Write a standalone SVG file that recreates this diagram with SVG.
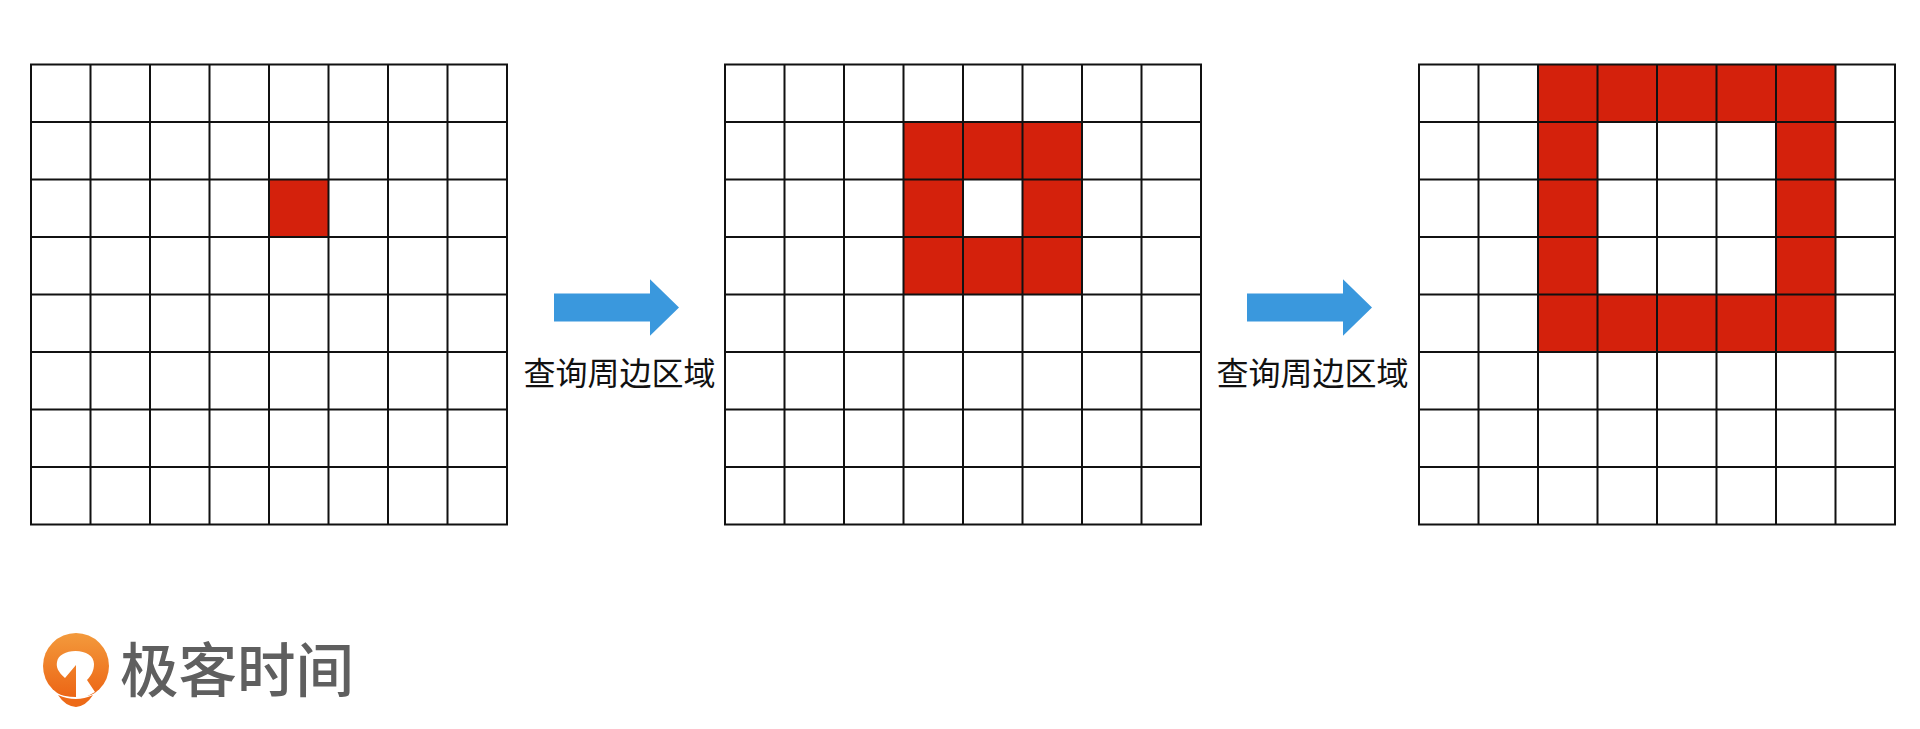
<svg xmlns="http://www.w3.org/2000/svg" xmlns:xlink="http://www.w3.org/1999/xlink" width="1920" height="729" viewBox="0 0 1920 729">
<style>
.red{fill:#d4210c}
.ln{stroke:#111;stroke-width:2;fill:none}
.ar{fill:#3a98dd}
.lb{font-family:"Noto Sans CJK SC","Liberation Sans",sans-serif;font-size:32px;fill:#111;text-anchor:middle}
.lg{font-family:"Noto Sans CJK SC","Liberation Sans",sans-serif;font-size:59px;font-weight:500;fill:#5f5f5f}
</style>
<defs>
<linearGradient id="og" x1="0" y1="0" x2="0" y2="1"><stop offset="0" stop-color="#f39a3c"/><stop offset="1" stop-color="#ec6414"/></linearGradient>
<rect id="c" class="red" width="59.5" height="57.5"/>
<path id="g" class="ln" d="M0 0H476V460H0ZM0 57.500H476M0 115H476M0 172.500H476M0 230H476M0 287.500H476M0 345H476M0 402.500H476M59.500 0V460M119 0V460M178.500 0V460M238 0V460M297.500 0V460M357 0V460M416.500 0V460"/>
<path id="a" class="ar" d="M0 14.300H96V0L125 28.200L96 56.400V42.300H0Z"/>
</defs>
<rect width="1920" height="729" fill="#fff"/>
<g id="grid1" transform="translate(31 64.500)">
<use xlink:href="#c" href="#c" x="238" y="115"/>
<use xlink:href="#g" href="#g"/>
</g>
<g id="grid2" transform="translate(725 64.500)">
<rect class="red" x="178.500" y="57.500" width="178.500" height="172.500"/>
<rect x="238" y="115" width="59.500" height="57.500" fill="#fff"/>
<use xlink:href="#g" href="#g"/>
</g>
<g id="grid3" transform="translate(1419 64.500)">
<rect class="red" x="119" y="0" width="297.500" height="287.500"/>
<rect x="178.500" y="57.500" width="178.500" height="172.500" fill="#fff"/>
<use xlink:href="#g" href="#g"/>
</g>
<g id="connectors">
<use xlink:href="#a" href="#a" x="554" y="279.300"/>
<use xlink:href="#a" href="#a" x="1247" y="279.300"/>
</g>
<g id="label1"><text class="lb" x="619.500" y="385">查询周边区域</text></g>
<g id="label2"><text class="lb" x="1312.500" y="385">查询周边区域</text></g>
<g id="logo">
<circle cx="76" cy="666" r="33" fill="url(#og)"/>
<path fill="#fff" d="M65 678C58 672 56 667 57 662C58 655 66 651 75.500 651C86 651 94 656 94 664C94 671 91 676 87 680L95 692Q85 698 76 700V665Z"/>
<path fill="#fff" d="M52 692Q76 702 100 692V700H52Z"/>
<path fill="#ed6a18" d="M58 695Q76 703 93 695Q86 706 76 707Q65 706 58 695Z"/>
<text class="lg" x="120" y="692" textLength="234" lengthAdjust="spacingAndGlyphs">极客时间</text>
</g>
</svg>
